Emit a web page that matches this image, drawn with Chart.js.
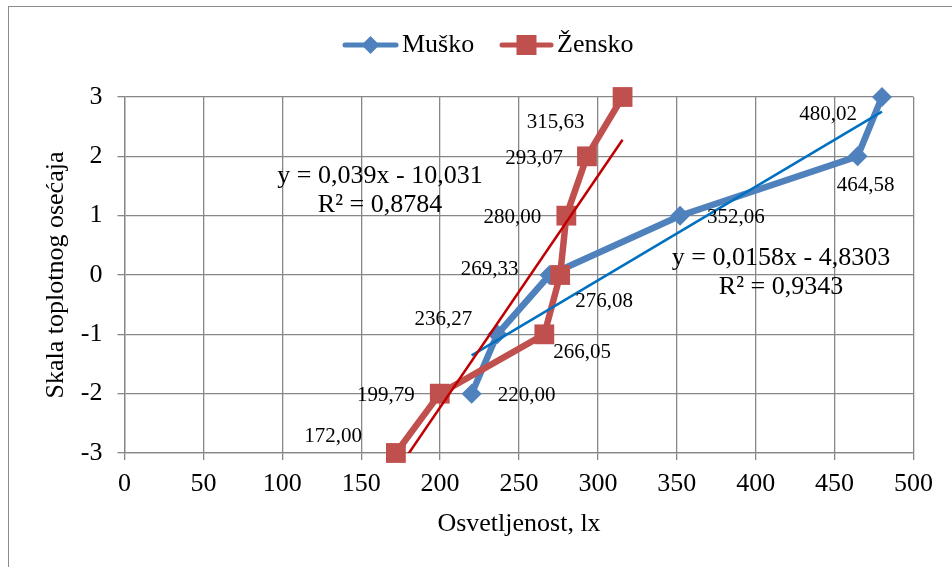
<!DOCTYPE html>
<html>
<head>
<meta charset="utf-8">
<title>Skala toplotnog osećaja</title>
<script src="https://cdn.jsdelivr.net/npm/chart.js@4"></script>
<style>
  html, body { margin: 0; padding: 0; background: #fff; }
  #wrap { position: relative; width: 952px; height: 567px; }
</style>
</head>
<body>
<div id="wrap"><canvas id="chart"></canvas></div>
<script>
// osvetljenost (lx) za svaku ocenu toplotnog osećaja
const seriesNames = ['Muško', 'Žensko'];
const muskoLux = [220.00, 236.27, 269.33, 352.06, 464.58, 480.02];
const muskoScale = [-2, -1, 0, 1, 2, 3];
const zenskoLux = [172.00, 199.79, 266.05, 276.08, 280.00, 293.07, 315.63];
const zenskoScale = [-3, -2, -1, 0, 1, 2, 3];

// linearni trend y = a*x + b, redom Muško, Žensko
const trendSlope = [0.0158, 0.039];
const trendIntercept = [-4.8303, -10.031];
const trendR2 = [0.9343, 0.8784];

const xTicks = { min: 0, max: 500, step: 50 };
const yTicks = { min: -3, max: 3, step: 1 };

const FONT = "'Liberation Serif', 'Times New Roman', serif";
const BLUE = '#4f81bd';
const RED = '#c0504d';
const BLUE_TREND = '#0070c0';
const RED_TREND = '#c00000';
const GRID = '#878787';

const toPoints = (xs, ys) => xs.map((x, i) => ({ x: x, y: ys[i] }));
const trendPoints = (xs, k) => {
  const lo = Math.min(...xs), hi = Math.max(...xs);
  return [lo, hi].map(x => ({ x: x, y: trendSlope[k] * x + trendIntercept[k] }));
};
const comma = v => String(v).replace('.', ',');
const luxLabel = v => v.toFixed(2).replace('.', ',');

// pomeraj natpisa vrednosti u odnosu na tačku: [dx, dy, poravnanje]
const labelPlace = [
  [[26, 2, 'left'], [-25, -15, 'right'], [-31, -6, 'right'], [27, 2, 'left'], [8, 29, 'center'], [-25, 17, 'right']],
  [[-34, -17, 'right'], [-25, 2, 'right'], [9, 18, 'left'], [15, 26, 'left'], [-25, 2, 'right'], [-24, 2, 'right'], [-38, 25, 'right']]
];
// centri jednačina trenda (px)
const equationPlace = [{ x: 781, y: 258 }, { x: 380, y: 176 }];

const frame = {
  id: 'frame',
  beforeDraw(chart) {
    const ctx = chart.ctx;
    ctx.save();
    ctx.fillStyle = '#fff';
    ctx.fillRect(0, 0, chart.width, chart.height);
    ctx.strokeStyle = '#8c8c8c';
    ctx.lineWidth = 1;
    ctx.strokeRect(8.5, 6.5, chart.width + 20, chart.height + 20);
    ctx.restore();
  }
};

const annotations = {
  id: 'annotations',
  afterDatasetsDraw(chart) {
    const ctx = chart.ctx;
    ctx.save();
    ctx.fillStyle = '#000';
    ctx.textBaseline = 'middle';

    // vrednosti osvetljenosti pored tačaka
    ctx.font = '21px ' + FONT;
    [0, 1].forEach(d => {
      const meta = chart.getDatasetMeta(d);
      const raw = chart.data.datasets[d].data;
      meta.data.forEach((pt, i) => {
        const [dx, dy, align] = labelPlace[d][i];
        ctx.textAlign = align;
        ctx.fillText(luxLabel(raw[i].x), pt.x + dx, pt.y + dy);
      });
    });

    // jednačine trenda
    ctx.font = '26px ' + FONT;
    ctx.textAlign = 'center';
    [0, 1].forEach(k => {
      const b = trendIntercept[k];
      const eq = 'y = ' + comma(trendSlope[k]) + 'x ' + (b < 0 ? '- ' : '+ ') + comma(Math.abs(b));
      const p = equationPlace[k];
      ctx.fillText(eq, p.x, p.y);
      ctx.fillText('R² = ' + comma(trendR2[k]), p.x, p.y + 29);
    });

    // legenda
    const y = 45;
    const items = [
      { x0: 343, x1: 398, color: BLUE, shape: 'diamond', tx: 402 },
      { x0: 500, x1: 553, color: RED, shape: 'square', tx: 557 }
    ];
    items.forEach((it, k) => {
      ctx.strokeStyle = it.color;
      ctx.fillStyle = it.color;
      ctx.lineWidth = 5;
      ctx.lineCap = 'round';
      ctx.beginPath();
      ctx.moveTo(it.x0 + 2, y);
      ctx.lineTo(it.x1 - 2, y);
      ctx.stroke();
      const cx = (it.x0 + it.x1) / 2;
      ctx.beginPath();
      if (it.shape === 'diamond') {
        ctx.moveTo(cx, y - 9);
        ctx.lineTo(cx + 9, y);
        ctx.lineTo(cx, y + 9);
        ctx.lineTo(cx - 9, y);
        ctx.closePath();
      } else {
        ctx.rect(cx - 10, y - 10, 20, 20);
      }
      ctx.fill();
      ctx.fillStyle = '#000';
      ctx.textAlign = 'left';
      ctx.fillText(seriesNames[k], it.tx, y);
    });
    ctx.restore();
  }
};

new Chart(document.getElementById('chart'), {
  type: 'line',
  data: {
    datasets: [
      {
        label: seriesNames[0],
        data: toPoints(muskoLux, muskoScale),
        borderColor: BLUE,
        backgroundColor: BLUE,
        borderWidth: 6.5,
        pointStyle: 'rectRot',
        pointRadius: 10,
        pointBorderWidth: 0,
        tension: 0,
        clip: false,
        order: 4
      },
      {
        label: seriesNames[1],
        data: toPoints(zenskoLux, zenskoScale),
        borderColor: RED,
        backgroundColor: RED,
        borderWidth: 6.5,
        pointStyle: 'rect',
        pointRadius: 14,
        pointBorderWidth: 0,
        tension: 0,
        clip: false,
        order: 3
      },
      {
        label: 'trend ' + seriesNames[0],
        data: trendPoints(muskoLux, 0),
        borderColor: BLUE_TREND,
        borderWidth: 2.5,
        pointRadius: 0,
        order: 2
      },
      {
        label: 'trend ' + seriesNames[1],
        data: trendPoints(zenskoLux, 1),
        borderColor: RED_TREND,
        borderWidth: 2.5,
        pointRadius: 0,
        order: 1
      }
    ]
  },
  options: {
    responsive: true,
    maintainAspectRatio: false,
    animation: false,
    events: [],
    layout: { padding: { top: 97, right: 38.5, left: 0, bottom: 0 } },
    plugins: {
      legend: { display: false },
      tooltip: { enabled: false }
    },
    scales: {
      x: {
        type: 'linear',
        min: xTicks.min,
        max: xTicks.max,
        afterFit: s => { s.height = 114; },
        ticks: { stepSize: xTicks.step, color: '#000', padding: 9, font: { family: FONT, size: 26 } },
        grid: { color: GRID, lineWidth: 1.3, tickLength: 7 },
        border: { color: GRID, width: 1.3 },
        title: {
          display: true,
          text: 'Osvetljenost, lx',
          color: '#000',
          font: { family: FONT, size: 26 },
          padding: { top: 0, bottom: 27 }
        }
      },
      y: {
        type: 'linear',
        min: yTicks.min,
        max: yTicks.max,
        afterFit: s => { s.width = 124.5; },
        ticks: { stepSize: yTicks.step, color: '#000', padding: 15, font: { family: FONT, size: 26 } },
        grid: { color: GRID, lineWidth: 1.3, tickLength: 7 },
        border: { color: GRID, width: 1.3 },
        title: {
          display: true,
          text: 'Skala toplotnog osećaja',
          color: '#000',
          font: { family: FONT, size: 26 },
          padding: { top: 41, bottom: 0 }
        }
      }
    }
  },
  plugins: [frame, annotations]
});
</script>
</body>
</html>
